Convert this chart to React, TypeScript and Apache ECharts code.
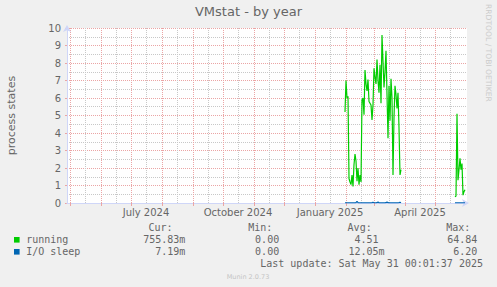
import React, { useEffect, useRef } from 'react';
import * as echarts from 'echarts';

const TITLE = 'VMstat - by year';
const Y_NAME = 'process states';
const SIDE_TEXT = 'RRDTOOL / TOBI OETIKER';
const FOOTER = 'Munin 2.0.73';
const LAST_UPDATE = 'Last update: Sat May 31 00:01:37 2025';

const X_START = '2024-04-28';
const X_END = '2025-06-02';

const MONTH_STARTS = [
  '2024-05-01', '2024-06-01', '2024-07-01', '2024-08-01', '2024-09-01', '2024-10-01', '2024-11-01',
  '2024-12-01', '2025-01-01', '2025-02-01', '2025-03-01', '2025-04-01', '2025-05-01',
];
const MID_MONTHS = [
  '2024-05-16', '2024-06-16', '2024-07-16', '2024-08-16', '2024-09-16', '2024-10-16', '2024-11-16',
  '2024-12-16', '2025-01-16', '2025-02-16', '2025-03-16', '2025-04-16', '2025-05-16',
];
const X_LABEL_DATES = ['2024-07-16', '2024-10-16', '2025-01-16', '2025-04-16'];
const X_LABEL_TEXTS = ['July 2024', 'October 2024', 'January 2025', 'April 2025'];

const BURST1_DATES = [
  '2025-01-31',
  '2025-02-01', '2025-02-02', '2025-02-03', '2025-02-04', '2025-02-05', '2025-02-06', '2025-02-07',
  '2025-02-08', '2025-02-09', '2025-02-10', '2025-02-11', '2025-02-12', '2025-02-13', '2025-02-14',
  '2025-02-15', '2025-02-16', '2025-02-17', '2025-02-18', '2025-02-19', '2025-02-20', '2025-02-21',
  '2025-02-22', '2025-02-23', '2025-02-24', '2025-02-25', '2025-02-26', '2025-02-27', '2025-02-28',
  '2025-03-01', '2025-03-02', '2025-03-03', '2025-03-04', '2025-03-05', '2025-03-06', '2025-03-07',
  '2025-03-08', '2025-03-09', '2025-03-10', '2025-03-11', '2025-03-12', '2025-03-13', '2025-03-14',
  '2025-03-15', '2025-03-16', '2025-03-17', '2025-03-18', '2025-03-19', '2025-03-20', '2025-03-21',
  '2025-03-22', '2025-03-23', '2025-03-24', '2025-03-25', '2025-03-26', '2025-03-27', '2025-03-28',
];
const BURST1_RUNNING = [
  5.2,
  7.0, 6.0, 6.1, 1.4, 1.2, 1.05, 1.6,
  0.95, 2.2, 2.8, 2.4, 1.25, 2.0, 1.05,
  1.6, 1.2, 5.9, 6.0, 5.05, 7.6, 6.8,
  6.4, 7.05, 5.8, 5.7, 5.6, 4.75, 5.6,
  7.7, 7.2, 6.8, 8.2, 7.0, 6.3, 7.9,
  5.7, 9.6, 8.1, 6.6, 7.5, 8.7, 6.2,
  3.7, 6.7, 4.7, 7.1, 6.0, 1.6, 4.9,
  6.7, 6.2, 5.4, 6.3, 4.3, 1.6, 1.9,
];
const BURST1_IOSLEEP = [
  0.01,
  0.01, 0.01, 0.01, 0.01, 0.01, 0.01, 0.01,
  0.01, 0.01, 0.01, 0.02, 0.1, 0.02, 0.01,
  0.01, 0.01, 0.01, 0.01, 0.01, 0.01, 0.01,
  0.01, 0.01, 0.01, 0.01, 0.01, 0.02, 0.04,
  0.01, 0.01, 0.01, 0.02, 0.06, 0.01, 0.01,
  0.01, 0.01, 0.01, 0.01, 0.01, 0.02, 0.06,
  0.02, 0.01, 0.01, 0.01, 0.01, 0.01, 0.01,
  0.01, 0.01, 0.01, 0.01, 0.02, 0.04, 0.01,
];

const BURST2_DATES = [
  '2025-05-21', '2025-05-22', '2025-05-23', '2025-05-24', '2025-05-25', '2025-05-26',
  '2025-05-27', '2025-05-28', '2025-05-29', '2025-05-30', '2025-05-31',
];
const BURST2_RUNNING = [0.35, 0.4, 5.1, 1.3, 1.9, 2.55, 1.9, 2.25, 0.45, 0.65, 0.76];
const BURST2_IOSLEEP = [0.01, 0.01, 0.01, 0.01, 0.01, 0.01, 0.01, 0.01, 0.01, 0.01, 0.01];

const LEGEND_NAMES = ['running', 'I/O sleep'];
const LEGEND_COLORS = ['#00CC00', '#0066B3'];
const LEGEND_HEADERS = ['Cur:', 'Min:', 'Avg:', 'Max:'];
const CUR_VALUES = ['755.83m', '7.19m'];
const MIN_VALUES = ['0.00', '0.00'];
const AVG_VALUES = ['4.51', '12.05m'];
const MAX_VALUES = ['64.84', '6.20'];

const ts = (s: string) => {
  const [y, m, d] = s.split('-').map(Number);
  return Date.UTC(y, m - 1, d);
};

const SANS = 'DejaVu Sans';
const MONO = 'DejaVu Sans Mono';
const FONT_COLOR = '#666666';
const AXIS_COLOR = '#CFD6F8';
const MGRID = '#EBA5A5';
const GRID = '#C8C8C8';

function buildOption() {
  const pairs = (dates: string[], vals: number[]) => dates.map((d, i) => [ts(d), vals[i]]);

  const lineSeries = (data: number[][], color: string, z: number) => ({
    type: 'line',
    data,
    showSymbol: false,
    symbol: 'none',
    lineStyle: { color, width: 1.2 },
    itemStyle: { color },
    z,
    silent: true,
  });

  const gridAxis = (dates: string[], color: string) => ({
    type: 'value',
    gridIndex: 0,
    position: 'bottom',
    min: ts(X_START),
    max: ts(X_END),
    axisLine: { show: false },
    axisTick: { show: false, customValues: dates.map(ts) },
    axisLabel: { show: false, customValues: dates.map(ts) },
    splitLine: { show: true, lineStyle: { color, type: [1, 1], width: 1 } },
    z: 0,
  });

  const headerX = [148.4, 248.2, 347.6, 446.2];
  const fieldEnd = [185.4, 285.2, 384.6, 483.4];
  const charW = 6.02;
  const colValues = [CUR_VALUES, MIN_VALUES, AVG_VALUES, MAX_VALUES];
  const rowY = [239.8, 251.8];

  const graphics: any[] = [];
  LEGEND_HEADERS.forEach((h, c) => {
    graphics.push({
      type: 'text', x: headerX[c], y: 227.6,
      style: { text: h, font: `10px "${MONO}"`, fill: FONT_COLOR, textAlign: 'left', textVerticalAlign: 'middle' },
    });
  });
  LEGEND_NAMES.forEach((name, r) => {
    graphics.push({
      type: 'rect', shape: { x: 14, y: rowY[r] - 2.8, width: 5.6, height: 5.6 },
      style: { fill: LEGEND_COLORS[r] },
    });
    graphics.push({
      type: 'text', x: 26.2, y: rowY[r],
      style: { text: name, font: `10px "${MONO}"`, fill: FONT_COLOR, textAlign: 'left', textVerticalAlign: 'middle' },
    });
    colValues.forEach((vals, c) => {
      const v = vals[r];
      const hasSuffix = /[a-zA-Z]$/.test(v);
      graphics.push({
        type: 'text', x: fieldEnd[c] - (hasSuffix ? 0 : charW), y: rowY[r],
        style: { text: v, font: `10px "${MONO}"`, fill: FONT_COLOR, textAlign: 'right', textVerticalAlign: 'middle' },
      });
    });
  });
  graphics.push({
    type: 'text', x: 483, y: 263.6,
    style: { text: LAST_UPDATE, font: `10px "${MONO}"`, fill: FONT_COLOR, textAlign: 'right', textVerticalAlign: 'middle' },
  });
  graphics.push({
    type: 'text', x: 248, y: 276.5,
    style: { text: FOOTER, font: `6.5px "${SANS}"`, fill: '#C4C4C4', textAlign: 'center', textVerticalAlign: 'middle' },
  });
  graphics.push({
    type: 'text', x: 488.5, y: 4, rotation: -Math.PI / 2,
    style: { text: SIDE_TEXT, font: `7.6px "${SANS}"`, fill: '#CCCCCC', textAlign: 'left', textVerticalAlign: 'middle' },
  });

  return {
    animation: false,
    backgroundColor: '#F0F0F0',
    textStyle: { fontFamily: SANS },
    title: {
      text: TITLE,
      left: 'center',
      top: 5,
      padding: 0,
      textStyle: { fontFamily: SANS, fontSize: 13, fontWeight: 'normal', color: FONT_COLOR },
    },
    grid: {
      left: 67, top: 28, width: 400, height: 175,
      show: true, backgroundColor: '#FFFFFF', borderWidth: 0,
      containLabel: false, outerBoundsMode: 'none',
    },
    xAxis: [
      {
        type: 'value',
        min: ts(X_START),
        max: ts(X_END),
        axisLine: {
          show: true, onZero: false,
          lineStyle: { color: AXIS_COLOR, width: 1 },
          symbol: ['none', 'arrow'], symbolSize: [6, 7], symbolOffset: [0, 2],
        },
        axisTick: {
          show: true, length: 3, inside: false,
          customValues: MONTH_STARTS.map(ts),
          lineStyle: { color: MGRID },
        },
        axisLabel: {
          show: true,
          customValues: X_LABEL_DATES.map(ts),
          formatter: (v: number) => {
            const i = X_LABEL_DATES.map(ts).indexOf(v);
            return i >= 0 ? X_LABEL_TEXTS[i] : '';
          },
          color: FONT_COLOR, fontSize: 10, fontFamily: SANS, margin: 4,
          hideOverlap: false,
        },
        splitLine: { show: false },
        z: 2,
      },
      gridAxis(MID_MONTHS, GRID),
      gridAxis(MONTH_STARTS, MGRID),
    ],
    yAxis: {
      type: 'value',
      min: 0, max: 10, interval: 1,
      name: Y_NAME,
      nameLocation: 'middle',
      nameRotate: 90,
      nameGap: 50,
      nameTextStyle: { color: FONT_COLOR, fontSize: 11, fontFamily: SANS },
      axisLine: {
        show: true,
        lineStyle: { color: AXIS_COLOR, width: 1 },
        symbol: ['none', 'arrow'], symbolSize: [6, 7], symbolOffset: [0, 3],
      },
      axisTick: { show: true, length: 2, lineStyle: { color: MGRID } },
      axisLabel: { color: FONT_COLOR, fontSize: 10, fontFamily: SANS, margin: 6 },
      splitLine: { show: true, lineStyle: { color: MGRID, type: [1, 1], width: 1 } },
      minorTick: { show: false, splitNumber: 2 },
      minorSplitLine: { show: true, lineStyle: { color: GRID, type: [1, 1], width: 1 } },
    },
    graphic: graphics,
    series: [
      lineSeries(pairs(BURST1_DATES, BURST1_RUNNING), LEGEND_COLORS[0], 3),
      lineSeries(pairs(BURST2_DATES, BURST2_RUNNING), LEGEND_COLORS[0], 3),
      lineSeries(pairs(BURST1_DATES, BURST1_IOSLEEP), LEGEND_COLORS[1], 4),
      lineSeries(pairs(BURST2_DATES, BURST2_IOSLEEP), LEGEND_COLORS[1], 4),
    ],
  };
}

export default function App() {
  const ref = useRef<HTMLDivElement>(null);
  useEffect(() => {
    if (!ref.current) return;
    const chart = echarts.init(ref.current, null, { renderer: 'svg', width: 497, height: 287 });
    chart.setOption(buildOption() as any);
    return () => chart.dispose();
  }, []);
  return (
    <div
      ref={ref}
      style={{ position: 'fixed', left: 0, top: 0, width: 497, height: 287 }}
    />
  );
}
